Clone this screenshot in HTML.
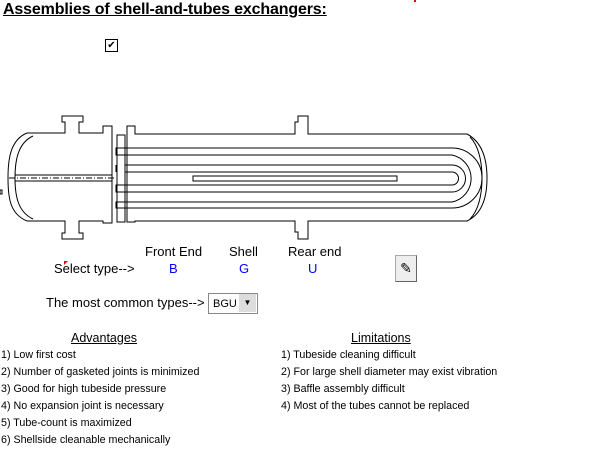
<!DOCTYPE html>
<html><head><meta charset="utf-8"><style>
body{margin:0;width:604px;height:457px;background:#fff;position:relative;font-family:"Liberation Sans",Arial,sans-serif;overflow:hidden}
.t{position:absolute;white-space:nowrap;color:#000}
.s{font-size:10.7px}
</style></head><body>
<div class="t" style="left:3px;top:1px;font-size:16px;font-weight:bold;text-decoration:underline;letter-spacing:-0.15px">Assemblies of shell-and-tubes exchangers:</div>
<div style="position:absolute;left:414px;top:0;width:2px;height:2px;background:#e00"></div>
<div style="position:absolute;left:105px;top:39px;width:11px;height:11px;border:1px solid #000;font-size:10px;line-height:11px;text-align:center">✔</div>
<svg style="position:absolute;left:0;top:0" width="604" height="250" fill="none" stroke="#000" stroke-width="1">
<path d="M27,133 H65 V122 H62 V116 H83 V122 H79 V133 H103 V126 H112 V223 H103 V221 H79 V233 H83 V239 H62 V233 H65 V221 H27"/>
<path d="M27,133 C10,140 8,160 8,178 C8,198 10,214 27,221"/>
<path d="M33,136 C18,143 15,160 15,178 C15,196 18,212 33,219"/>
<path d="M9,178 H114" stroke-dasharray="6,2,1,2"/>
<path d="M15,175 H112 M15,181 H112"/>
<rect x="0" y="190" width="2" height="4"/>
<rect x="117" y="135" width="8" height="87"/>
<path d="M135,134 V126 H127 V222 H135 V221 H295 V232 H298 V239 H308 V221 H467 C482,214 487,198 487,178 C487,158 482,142 467,134 H308 V116 H298 V122 H295 V134 Z"/>
<path d="M470,137 C478,145 482,160 482,178 C482,196 478,211 470,219"/>
<path d="M116,148 H452 A30,30 0 0 1 452,208 H116 V202 H452 A24,24 0 0 0 452,155 H116 Z"/>
<path d="M125,165 H452 A13,13 0 0 1 452,192 H116 V185 H452 A6,6 0 0 0 452,172 H125"/>
<rect x="193" y="176" width="204" height="5"/>
<path d="M116,165 V172 M116,202 V208"/>
</svg>
<div class="t" style="left:145px;top:244px;font-size:13px">Front End</div>
<div class="t" style="left:229px;top:244px;font-size:13px">Shell</div>
<div class="t" style="left:288px;top:244px;font-size:13px">Rear end</div>
<div class="t" style="left:54px;top:261px;font-size:13px">Select type--&gt;</div>
<div style="position:absolute;left:64px;top:261px;width:0;height:0;border-top:4px solid #e00;border-right:4px solid transparent"></div>
<div class="t" style="left:169px;top:261px;font-size:13px;color:#00f">B</div>
<div class="t" style="left:239px;top:261px;font-size:13px;color:#00f">G</div>
<div class="t" style="left:308px;top:261px;font-size:13px;color:#00f">U</div>
<div style="position:absolute;left:395px;top:255px;width:20px;height:25px;background:#eee;border:1px solid #aaa;border-right-color:#666;border-bottom-color:#666;font-size:14px;text-align:center;line-height:25px">✎</div>
<div class="t" style="left:46px;top:295px;font-size:13px">The most common types--&gt;</div>
<div style="position:absolute;left:208px;top:293px;width:48px;height:19px;border:1px solid #888;background:#fff"></div>
<div class="t" style="left:213px;top:298px;font-size:11px">BGU</div>
<div style="position:absolute;left:239px;top:294px;width:17px;height:18px;background:#ddd;font-size:8px;text-align:center;line-height:18px">▼</div>
<div class="t" style="left:71px;top:331px;font-size:12.5px;text-decoration:underline">Advantages</div>
<div class="t" style="left:351px;top:331px;font-size:12.5px;text-decoration:underline">Limitations</div>
<div class="t s" style="left:1px;top:349px">1) Low first cost</div>
<div class="t s" style="left:1px;top:366px">2) Number of gasketed joints is minimized</div>
<div class="t s" style="left:1px;top:383px">3) Good for high tubeside pressure</div>
<div class="t s" style="left:1px;top:400px">4) No expansion joint is necessary</div>
<div class="t s" style="left:1px;top:417px">5) Tube-count is maximized</div>
<div class="t s" style="left:1px;top:434px">6) Shellside cleanable mechanically</div>
<div class="t s" style="left:281px;top:349px">1) Tubeside cleaning difficult</div>
<div class="t s" style="left:281px;top:366px">2) For large shell diameter may exist vibration</div>
<div class="t s" style="left:281px;top:383px">3) Baffle assembly difficult</div>
<div class="t s" style="left:281px;top:400px">4) Most of the tubes cannot be replaced</div>
</body></html>
